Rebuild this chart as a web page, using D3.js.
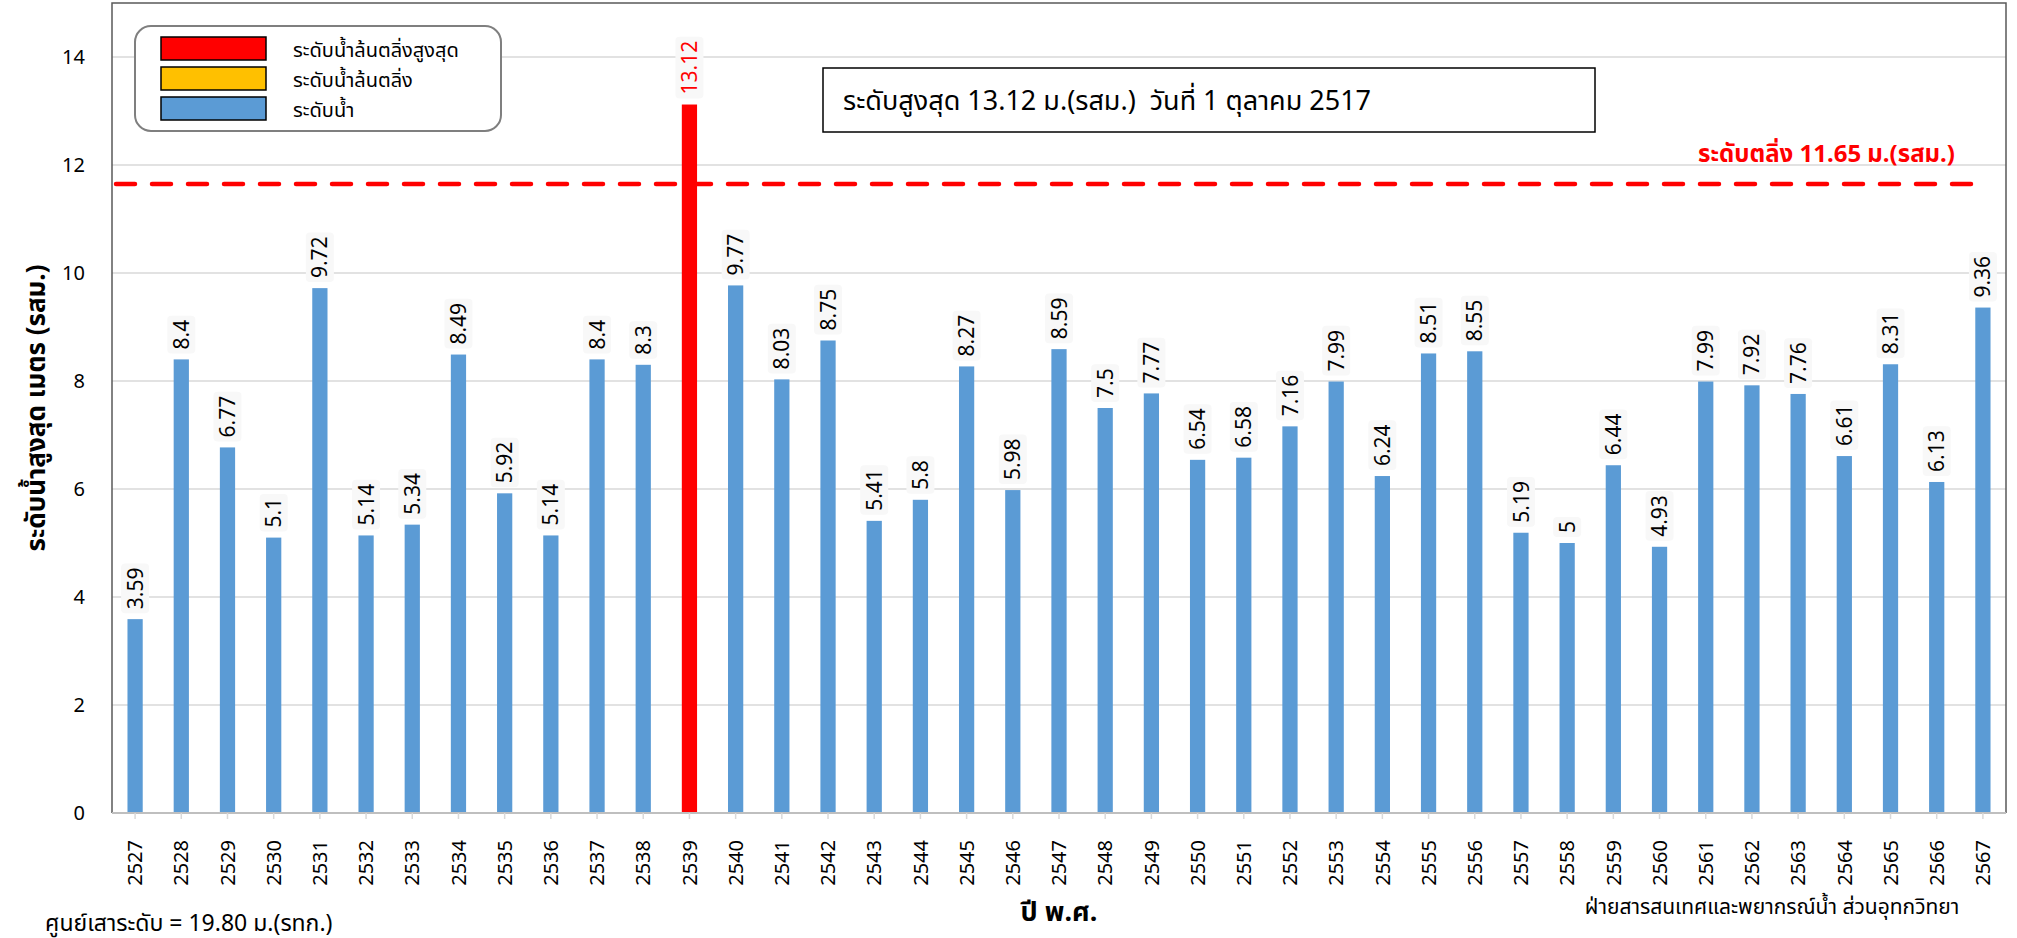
<!DOCTYPE html>
<html>
<head>
<meta charset="utf-8">
<script src="https://cdn.jsdelivr.net/npm/d3@7"></script>
<style>
  body { margin: 0; background: #fff; }
  svg text { font-family: "Noto Sans", "Noto Sans Thai", Tahoma, "DejaVu Sans", sans-serif; }
</style>
</head>
<body>
<div id="chart"></div>
<script>
// ข้อมูลระดับน้ำสูงสุดรายปี
var years = ["2527","2528","2529","2530","2531","2532","2533","2534","2535","2536",
             "2537","2538","2539","2540","2541","2542","2543","2544","2545","2546",
             "2547","2548","2549","2550","2551","2552","2553","2554","2555","2556",
             "2557","2558","2559","2560","2561","2562","2563","2564","2565","2566","2567"];
var levels = [3.59, 8.4, 6.77, 5.1, 9.72, 5.14, 5.34, 8.49, 5.92, 5.14,
              8.4, 8.3, 13.12, 9.77, 8.03, 8.75, 5.41, 5.8, 8.27, 5.98,
              8.59, 7.5, 7.77, 6.54, 6.58, 7.16, 7.99, 6.24, 8.51, 8.55,
              5.19, 5, 6.44, 4.93, 7.99, 7.92, 7.76, 6.61, 8.31, 6.13, 9.36];
var yTicks = [0, 2, 4, 6, 8, 10, 12, 14];
var bankLevel = 11.65;
var legendLabels = ["ระดับน้ำล้นตลิ่งสูงสุด", "ระดับน้ำล้นตลิ่ง", "ระดับน้ำ"];
var legendColors = ["#ff0000", "#ffc000", "#5b9bd5"];

var W = 2017, H = 938;
var margin = {top: 3, right: 11, bottom: 125, left: 112};

var svg = d3.select("#chart").append("svg")
    .attr("width", W)
    .attr("height", H);

var x = d3.scaleBand().domain(years)
    .range([margin.left, W - margin.right])
    .paddingInner(0.67).paddingOuter(0.335);
var y = d3.scaleLinear().domain([0, 15]).range([H - margin.bottom, margin.top]);

var maxV = d3.max(levels);
function barColor(v) {
    if (v === maxV) return legendColors[0];
    if (v > bankLevel) return legendColors[1];
    return legendColors[2];
}

// gridlines
svg.append("g").selectAll("line")
    .data(yTicks.filter(function (d) { return d > 0; }))
    .enter().append("line")
    .attr("x1", margin.left).attr("x2", W - margin.right)
    .attr("y1", function (d) { return y(d); })
    .attr("y2", function (d) { return y(d); })
    .attr("stroke", "#d9d9d9").attr("stroke-width", 1.5);

// y tick labels
svg.append("g").selectAll("text")
    .data(yTicks)
    .enter().append("text")
    .attr("x", 85)
    .attr("y", function (d) { return y(d); })
    .attr("dy", "0.36em")
    .attr("text-anchor", "end")
    .attr("font-size", 20)
    .attr("fill", "#000")
    .text(function (d) { return d; });

// bank level line
svg.append("line")
    .attr("x1", 116).attr("x2", 1979)
    .attr("y1", y(bankLevel)).attr("y2", y(bankLevel))
    .attr("stroke", "#ff0000").attr("stroke-width", 4.5)
    .attr("stroke-dasharray", "19,17")
    .attr("stroke-linecap", "round");

svg.append("text")
    .attr("x", 1955).attr("y", 162)
    .attr("text-anchor", "end")
    .attr("font-size", 24).attr("font-weight", "bold")
    .attr("fill", "#ff0000")
    .text("ระดับตลิ่ง " + bankLevel + " ม.(รสม.)");

// bars
var data = years.map(function (yr, i) { return {year: yr, v: levels[i]}; });

svg.append("g").selectAll("rect")
    .data(data)
    .enter().append("rect")
    .attr("x", function (d) { return x(d.year); })
    .attr("width", x.bandwidth())
    .attr("y", function (d) { return y(d.v); })
    .attr("height", function (d) { return y(0) - y(d.v); })
    .attr("fill", function (d) { return barColor(d.v); });

// value labels
var lab = svg.append("g").selectAll("g")
    .data(data)
    .enter().append("g")
    .attr("transform", function (d) {
        return "translate(" + (x(d.year) + x.bandwidth() / 2) + "," + (y(d.v) - 6) + ") rotate(-90)";
    });
lab.append("rect").attr("class", "bg");
lab.append("text")
    .attr("x", 4).attr("dy", "0.36em")
    .attr("font-size", 21)
    .attr("fill", function (d) { return d.v === maxV ? "#ff0000" : "#000"; })
    .text(function (d) { return d.v; });
lab.each(function () {
    var g = d3.select(this);
    var w = g.select("text").node().getComputedTextLength();
    g.select("rect.bg")
        .attr("x", 0).attr("y", -14)
        .attr("width", w + 8).attr("height", 28)
        .attr("rx", 4)
        .attr("fill", "#f8f8f8");
});

// frame + axes
svg.append("path")
    .attr("d", "M" + margin.left + "," + y(0) + "V" + margin.top + "H" + (W - margin.right) + "V" + y(0))
    .attr("fill", "none").attr("stroke", "#595959").attr("stroke-width", 1.5);
svg.append("line")
    .attr("x1", margin.left).attr("x2", W - margin.right)
    .attr("y1", y(0)).attr("y2", y(0))
    .attr("stroke", "#bfbfbf").attr("stroke-width", 2);

// x ticks and labels
var xt = svg.append("g").selectAll("g")
    .data(years)
    .enter().append("g")
    .attr("transform", function (d) { return "translate(" + (x(d) + x.bandwidth() / 2) + ",0)"; });
xt.append("line")
    .attr("y1", y(0)).attr("y2", y(0) + 6)
    .attr("stroke", "#d9d9d9").attr("stroke-width", 1.5);
xt.append("text")
    .attr("transform", "translate(0," + 840 + ") rotate(-90)")
    .attr("dy", "0.36em")
    .attr("text-anchor", "end")
    .attr("font-size", 20)
    .attr("fill", "#000")
    .text(function (d) { return d; });

// legend
var leg = svg.append("g");
leg.append("rect")
    .attr("x", 135).attr("y", 26).attr("width", 366).attr("height", 105)
    .attr("rx", 16)
    .attr("fill", "#fff").attr("stroke", "#7f7f7f").attr("stroke-width", 2);
legendLabels.forEach(function (t, i) {
    leg.append("rect")
        .attr("x", 161).attr("y", 37 + i * 30)
        .attr("width", 105).attr("height", 23)
        .attr("fill", legendColors[i]).attr("stroke", "#000").attr("stroke-width", 1.5);
    leg.append("text")
        .attr("x", 293).attr("y", 50 + i * 30)
        .attr("dy", "0.36em")
        .attr("font-size", 20)
        .text(t);
});

// max box
svg.append("rect")
    .attr("x", 823).attr("y", 68).attr("width", 772).attr("height", 64)
    .attr("fill", "#fff").attr("stroke", "#000").attr("stroke-width", 1.5);
svg.append("text")
    .attr("x", 843).attr("y", 100)
    .attr("dy", "0.36em")
    .attr("font-size", 27)
    .attr("xml:space", "preserve")
    .text("ระดับสูงสุด 13.12 ม.(รสม.)  วันที่ 1 ตุลาคม 2517");

// axis titles
svg.append("text")
    .attr("transform", "translate(36," + y(7.5) + ") rotate(-90)")
    .attr("dy", "0.36em")
    .attr("text-anchor", "middle")
    .attr("font-size", 26).attr("font-weight", "bold")
    .text("ระดับน้ำสูงสุด เมตร (รสม.)");
svg.append("text")
    .attr("x", 1059).attr("y", 921)
    .attr("text-anchor", "middle")
    .attr("font-size", 27).attr("font-weight", "bold")
    .text("ปี พ.ศ.");

// footnotes
svg.append("text")
    .attr("x", 45).attr("y", 931)
    .attr("font-size", 23)
    .text("ศูนย์เสาระดับ = 19.80 ม.(รทก.)");
svg.append("text")
    .attr("x", 1772).attr("y", 914)
    .attr("text-anchor", "middle")
    .attr("font-size", 21)
    .text("ฝ่ายสารสนเทศและพยากรณ์น้ำ ส่วนอุทกวิทยา");
</script>
</body>
</html>
